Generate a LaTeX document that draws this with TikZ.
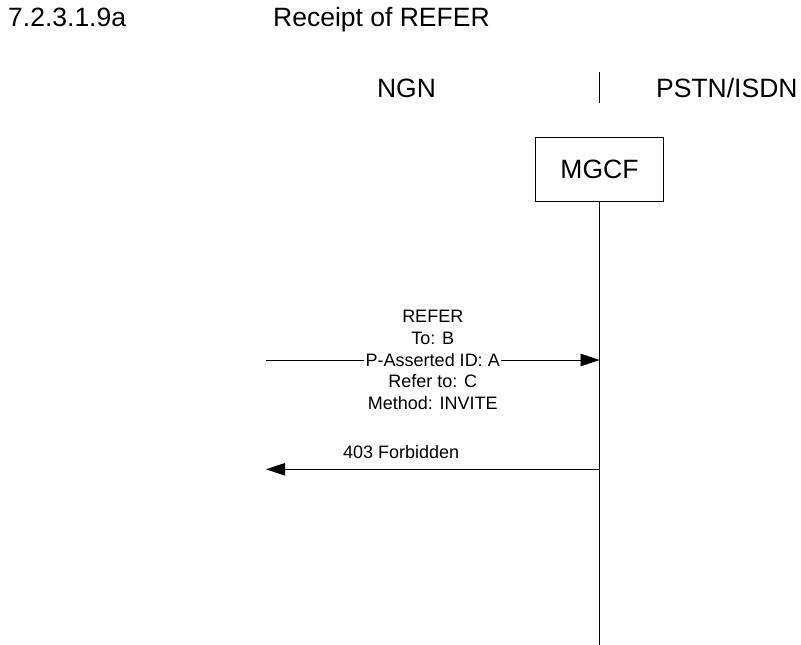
\documentclass[tikz,border=0pt]{standalone}
\usepackage{fontspec}
\setmainfont{Liberation Sans}
\usetikzlibrary{arrows.meta}

\tikzset{
  headtext/.style={font=\fontsize{26.5}{30}\selectfont,inner sep=0},
  msgtext/.style={font=\fontsize{18}{21.7}\selectfont,align=center,inner sep=1.5pt},
  msgarrow/.style={line width=0.9pt,-{Triangle[length=19pt,width=12.5pt]}},
  entity/.style={draw,line width=1pt,minimum width=128pt,minimum height=64pt,
    font=\fontsize{26.5}{30}\selectfont}
}

\begin{document}
\begin{tikzpicture}[x=1pt,y=-1pt]
\useasboundingbox (0,0) rectangle (801,645);
% heading
\node[headtext,anchor=base west] (clause) at (8,27) {7.2.3.1.9a};
\node[headtext,anchor=base west] (title) at (273,27) {Receipt of REFER};
% network sides
\node[headtext,anchor=base] (ngn) at (406.5,97) {NGN};
\node[headtext,anchor=base west] (pstn) at (656,97) {PSTN/ISDN};
\coordinate (divtop) at (599.5,72);
\coordinate (divbot) at (599.5,103);
\draw[line width=1pt] (divtop) -- (divbot);
% MGCF and its lifeline
\node[entity] (mgcf) at (599.5,169) {MGCF};
\coordinate (mgcfend) at (599.5,645);
\draw[line width=1.8pt] (mgcf.south) -- (mgcfend);
% REFER
\coordinate (referfrom) at (266,360);
\coordinate (referto) at (mgcf.south |- referfrom);
\draw[msgarrow] (referfrom) -- (referto)
  node[msgtext,midway,fill=white] (refer) {REFER\\To: B\\P-Asserted ID: A\\Refer to: C\\Method: INVITE};
% 403 Forbidden
\coordinate (rejfrom) at (mgcf.south |- 0,469.3);
\coordinate (rejto) at (266,469.3);
\draw[msgarrow] (rejfrom) -- (rejto)
  node[msgtext,pos=0.595,yshift=17pt] (reject) {403 Forbidden};
\end{tikzpicture}
\end{document}
